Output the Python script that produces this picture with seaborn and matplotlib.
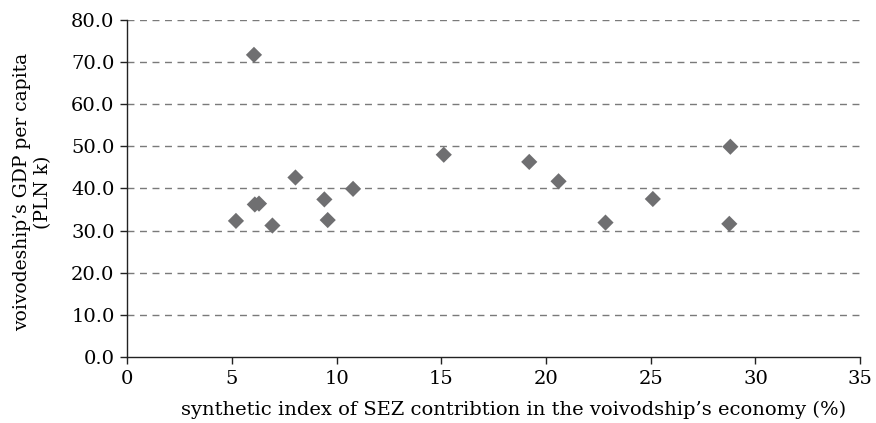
import pandas as pd
import matplotlib
matplotlib.use('Agg')
import matplotlib.pyplot as plt
import seaborn as sns

# udział SEZ (%) i PKB per capita (tys. PLN) dla województw
sez_index = [5.2, 6.06, 6.1, 6.3, 6.94, 8.04, 9.42, 9.58, 10.79, 15.12,
             19.2, 20.6, 22.84, 25.1, 28.8, 28.75]
gdp_per_capita = [32.3, 71.7, 36.2, 36.4, 31.2, 42.6, 37.4, 32.5, 39.9, 48.0,
                  46.3, 41.7, 31.9, 37.5, 49.9, 31.6]

df = pd.DataFrame({'sez': sez_index, 'gdp': gdp_per_capita})

sns.set_style("white")
plt.rcParams['font.family'] = ['DejaVu Serif']

fig = plt.figure(figsize=(8.76, 4.23), dpi=100)
ax = fig.add_axes([0.145, 0.156, 0.837, 0.797])

sns.scatterplot(x='sez', y='gdp', data=df, marker='D', s=68,
                color='#6f6f71', edgecolor='none', ax=ax, zorder=3)

ax.set_xlim(0, 35)
ax.set_ylim(0, 80)
ax.set_xticks(range(0, 36, 5))
ax.set_yticks(range(0, 81, 10))
ax.set_yticklabels([f'{v:.1f}' for v in range(0, 81, 10)])

for v in range(10, 81, 10):
    ax.axhline(v, color='#7a7a7a', lw=1, ls=(0, (5, 4)), zorder=1)

for s in ['top', 'right']:
    ax.spines[s].set_visible(False)
for s in ['left', 'bottom']:
    ax.spines[s].set_color('#222222')
    ax.spines[s].set_linewidth(1)

ax.tick_params(axis='both', direction='out', length=5, width=1,
               color='#222222', labelcolor='black', labelsize=14, pad=4,
               left=True, bottom=True)

ax.set_xlabel('synthetic index of SEZ contribtion in the voivodship\u2019s economy (%)',
              fontsize=14, color='black')
ax.xaxis.set_label_coords(0.527, -0.13, transform=ax.transAxes)
ax.set_ylabel('voivodeship\u2019s GDP per capita\n(PLN k)', fontsize=13.5,
              linespacing=1.25, color='black')
ax.yaxis.set_label_coords(-0.102, 0.49, transform=ax.transAxes)

fig.savefig('out.png', dpi=100)
